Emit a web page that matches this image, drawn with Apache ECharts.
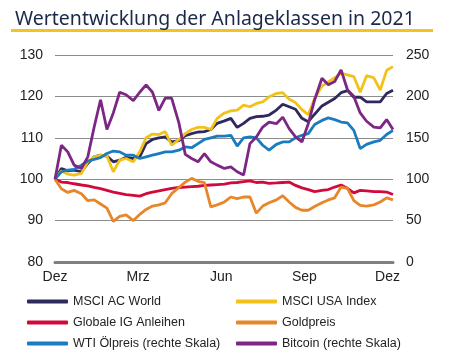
<!DOCTYPE html>
<html>
<head>
<meta charset="utf-8">
<script src="https://cdn.jsdelivr.net/npm/echarts@6/dist/echarts.min.js"></script>
<style>
html,body{margin:0;padding:0;background:#fff;}
#chart{width:466px;height:360px;}
</style>
</head>
<body>
<div id="chart"></div>
<script>
// Observation dates (sampled roughly weekly)
const dates = ['2020-12-01','2020-12-08','2020-12-15','2020-12-22','2020-12-30','2021-01-06','2021-01-13','2021-01-20','2021-01-27','2021-02-03',
'2021-02-10','2021-02-17','2021-02-25','2021-03-04','2021-03-11','2021-03-18','2021-03-25','2021-04-01','2021-04-08','2021-04-16',
'2021-04-23','2021-04-30','2021-05-07','2021-05-14','2021-05-21','2021-05-28','2021-06-05','2021-06-12','2021-06-19','2021-06-26',
'2021-07-03','2021-07-10','2021-07-17','2021-07-24','2021-08-01','2021-08-08','2021-08-15','2021-08-22','2021-08-29','2021-09-05',
'2021-09-12','2021-09-20','2021-09-27','2021-10-04','2021-10-11','2021-10-18','2021-10-25','2021-11-01','2021-11-08','2021-11-16',
'2021-11-23','2021-11-30','2021-12-07'];

const tickLabels = ['Dez','Mrz','Jun','Sep','Dez'];

// Left scale (indexed, 100 = start)
const msciWorld = [100,102.6,102.0,102.2,101.8,103.8,105.4,105.8,105.6,104.2,
104.6,105.3,105.0,105.4,108.6,109.6,110.0,110.2,109.0,109.3,
110.5,111.0,111.4,111.5,112.0,113.5,114.1,114.7,112.5,113.5,
114.7,115.1,115.2,115.5,116.7,118.1,117.5,116.9,114.7,113.9,
115.7,117.7,118.6,119.5,120.9,121.4,119.8,119.8,118.7,118.7,
118.7,120.7,121.5];

const msciUSA = [100,102.0,101.2,101.0,101.4,104.2,105.4,105.8,105.6,101.8,
104.6,105.0,104.2,106.6,110.0,110.9,110.8,111.5,108.2,109.6,
111.0,112.0,112.5,112.5,112.0,114.7,116.0,116.5,116.7,117.9,
117.5,118.3,118.7,119.9,120.7,120.9,119.3,118.5,116.8,115.6,
119.5,122.5,123.5,124.5,125.6,125.2,124.8,121.0,125.0,124.5,
121.5,126.3,127.2];

const igBonds = [100,99.3,99.2,98.9,98.6,98.4,98.0,97.7,97.3,96.9,
96.6,96.3,96.1,95.9,96.5,96.9,97.2,97.5,97.8,98.0,
98.1,98.2,98.3,98.5,98.6,98.7,98.8,99.1,99.2,99.4,
99.6,99.2,99.3,99.0,99.1,99.2,99.3,98.5,97.9,97.5,
97.0,97.3,97.5,98.1,98.6,97.8,96.7,97.3,97.2,97.0,
97.0,96.9,96.3];

const gold = [100,97.7,96.8,97.3,96.5,94.8,95.0,94.0,93.0,89.8,
91.0,91.4,90.0,91.5,92.7,93.5,93.8,94.3,96.5,98.0,
99.3,100.2,99.5,99.2,93.3,93.8,94.5,95.7,95.3,95.7,
95.7,91.8,93.5,94.3,95.0,96.0,94.5,93.2,92.5,92.5,
93.4,94.3,95.0,95.5,98.1,97.8,94.8,93.7,93.5,93.8,
94.5,95.5,95.0];

// Right scale
const wti = [100,109,111,112,117,122,124,126,131,134,
133,129,129,125,127,129,131,133,133,135,
139,138,143,148,150,152,152,153,140,150,
151,150,141,135,142,145,145,150,153,155,
166,171,174,172,169,168,159,137,142,145,
147,154,159];

const bitcoin = [100,141,133,117,113,127,163,196,160,180,
205,202,195,205,214,205,183,198,198,168,
130,125,121,131,121,117,113,115,109,105,
143,151,163,169,167,175,161,151,145,167,
196,222,214,218,232,208,200,180,170,163,
162,172,160];

const seriesNames = ['MSCI AC World','MSCI USA Index','Globale IG Anleihen','Goldpreis','WTI Ölpreis (rechte Skala)','Bitcoin (rechte Skala)'];
const seriesColors = ['#2e2a5e','#f2c218','#d20a3c','#e8862a','#1a7bbf','#7b2783'];
const seriesValues = [msciWorld, msciUSA, igBonds, gold, wti, bitcoin];
const seriesAxis = [0,0,0,0,1,1];

function toTs(s){const p=s.split('-').map(Number);return new Date(p[0],p[1]-1,p[2]).getTime();}
const t0 = toTs(dates[0]);
const days = dates.map(d => Math.round((toTs(d)-t0)/86400000));

const FONT = '"Liberation Sans", Arial, sans-serif';
const QUARTER = 91.25;

const legendCommon = {
  orient:'vertical', top: 295, padding: 0,
  itemWidth: 41, itemHeight: 4, itemGap: 8, icon:'roundRect',
  textStyle:{fontFamily: FONT, fontSize: 12.5, color:'#222'}
};

const chart = echarts.init(document.getElementById('chart'), null, {renderer:'canvas'});
chart.setOption({
  animation: false,
  backgroundColor: '#fff',
  title: {
    text: 'Wertentwicklung der Anlageklassen in 2021',
    left: 10, top: 4,
    textStyle: {fontFamily: '"Noto Sans", sans-serif', fontSize: 19.5, fontWeight: 'normal', color: '#1a284a'}
  },
  graphic: [{type:'rect', left: 11, top: 29, shape:{width: 422, height: 3}, style:{fill:'#f3c321'}, silent:true}],
  grid: {left: 55, right: 73, top: 55, bottom: 98},
  legend: [
    Object.assign({data:[seriesNames[0],seriesNames[2],seriesNames[4]], left: 27}, legendCommon),
    Object.assign({data:[seriesNames[1],seriesNames[3],seriesNames[5]], left: 236}, legendCommon)
  ],
  xAxis: {
    type: 'value', min: 0, max: 371, interval: QUARTER,
    axisLine: {show: true, lineStyle: {color: '#7f7f7f', width: 3}},
    axisTick: {show: false},
    splitLine: {show: false},
    axisLabel: {
      fontFamily: FONT, fontSize: 14, color: '#222', margin: 8, showMaxLabel: false,
      formatter: function(v){
        const k = Math.round(v/QUARTER);
        if (Math.abs(v - k*QUARTER) > 0.5) return '';
        return tickLabels[k] || '';
      }
    }
  },
  yAxis: [
    {type:'value', min: 80, max: 130, interval: 10, position:'left',
     axisLine:{show:false}, axisTick:{show:false},
     axisLabel:{fontFamily: FONT, fontSize: 14, color:'#222', margin: 12},
     splitLine:{lineStyle:{color:'#8c8c8c', width:1}}},
    {type:'value', min: 0, max: 250, interval: 50, position:'right',
     axisLine:{show:false}, axisTick:{show:false},
     axisLabel:{fontFamily: FONT, fontSize: 14, color:'#222', margin: 13},
     splitLine:{show:false}}
  ],
  series: seriesNames.map((name, s) => ({
    name: name, type: 'line', yAxisIndex: seriesAxis[s],
    data: days.map((d, k) => [d, seriesValues[s][k]]),
    symbol: 'none', showSymbol: false,
    lineStyle: {width: 2.8, color: seriesColors[s]},
    itemStyle: {color: seriesColors[s]}
  }))
});
</script>
</body>
</html>
